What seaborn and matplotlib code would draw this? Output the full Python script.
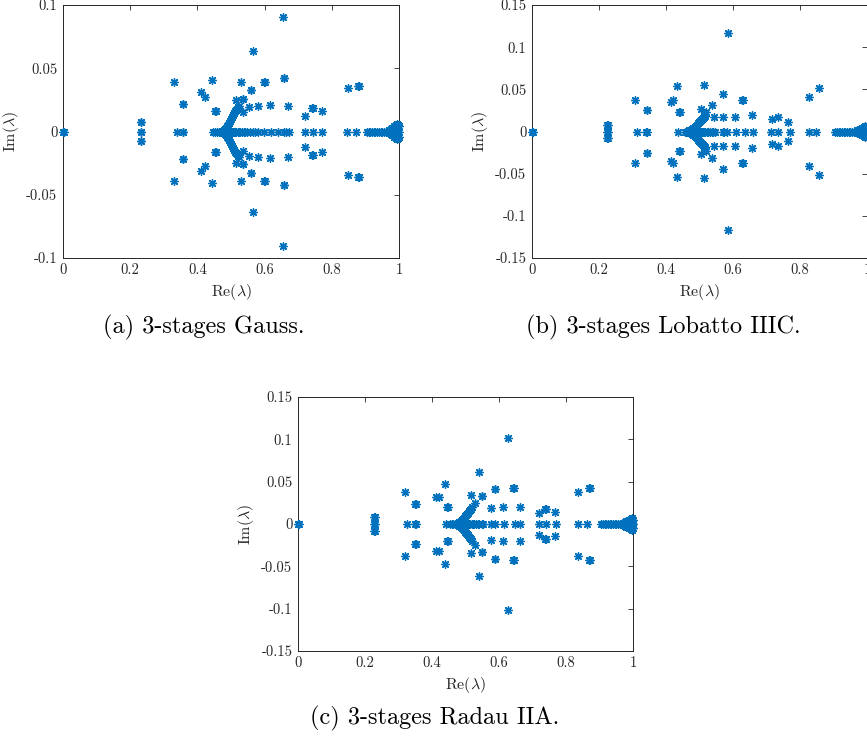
import numpy as np
import pandas as pd
import matplotlib
matplotlib.use('Agg')
import matplotlib.pyplot as plt
import seaborn as sns

# ---------------- data ----------------
# conjugate pairs: (re, +im) ; the conjugate (re, -im) is also an eigenvalue
gauss_pair_re = [0.231, 0.233, 0.330, 0.356, 0.358, 0.411, 0.424, 0.443, 0.453, 0.455,
                 0.516, 0.535, 0.537, 0.530, 0.536, 0.554, 0.559, 0.561, 0.565, 0.581,
                 0.598, 0.600, 0.616, 0.656, 0.657, 0.659, 0.670, 0.721, 0.741, 0.743,
                 0.772, 0.849, 0.879, 0.881,
                 0.478, 0.482, 0.486, 0.489, 0.492, 0.495, 0.498, 0.501, 0.504, 0.507,
                 0.510, 0.513, 0.516, 0.519, 0.522, 0.525,
                 0.970, 0.975, 0.980, 0.985, 0.990, 0.995, 0.998, 1.000]
gauss_pair_im = [0.0074, 0.0074, 0.039, 0.022, 0.022, 0.031, 0.027, 0.041, 0.0165, 0.0165,
                 0.025, 0.0255, 0.0255, 0.0395, 0.0158, 0.019, 0.033, 0.033, 0.0637, 0.020,
                 0.039, 0.039, 0.021, 0.0905, 0.042, 0.042, 0.0203, 0.0119, 0.0188, 0.0188,
                 0.0164, 0.034, 0.036, 0.036,
                 0.0015, 0.002, 0.003, 0.004, 0.0055, 0.007, 0.0085, 0.010, 0.0115, 0.013,
                 0.0145, 0.016, 0.017, 0.018, 0.019, 0.020,
                 0.0015, 0.002, 0.003, 0.004, 0.005, 0.006, 0.005, 0.004]
gauss_real = [0.0, 0.002, 0.231, 0.233, 0.338, 0.356, 0.358, 0.445,
              0.452, 0.458, 0.463, 0.467, 0.471, 0.474, 0.477, 0.480, 0.482, 0.484,
              0.486, 0.488, 0.490, 0.492, 0.494, 0.496, 0.498, 0.500, 0.502, 0.504,
              0.507, 0.510, 0.513, 0.516, 0.520, 0.524, 0.528, 0.533, 0.538, 0.543,
              0.548, 0.558, 0.566, 0.571, 0.581, 0.599, 0.618, 0.640, 0.658, 0.665,
              0.672, 0.720, 0.743, 0.772, 0.844, 0.872,
              0.905, 0.910, 0.915, 0.920, 0.925, 0.930, 0.935, 0.940, 0.945, 0.950,
              0.955, 0.960, 0.965, 0.970, 0.975, 0.980, 0.985, 0.990, 0.995, 1.000]

lobatto_pair_re = [0.225, 0.227, 0.308, 0.342, 0.344, 0.415, 0.420, 0.434, 0.440, 0.442,
                   0.505, 0.514, 0.520, 0.538, 0.543, 0.570, 0.571, 0.584, 0.605, 0.627,
                   0.629, 0.656, 0.717, 0.735, 0.763, 0.826, 0.856,
                   0.470, 0.474, 0.478, 0.482, 0.486, 0.489, 0.492, 0.495, 0.498, 0.501,
                   0.504, 0.507, 0.510, 0.513, 0.516,
                   0.970, 0.975, 0.980, 0.985, 0.990, 0.995, 0.998, 1.000]
lobatto_pair_im = [0.0083, 0.0083, 0.0374, 0.0256, 0.0256, 0.0345, 0.0374, 0.054, 0.0233, 0.0233,
                   0.027, 0.0547, 0.023, 0.032, 0.0177, 0.0177, 0.045, 0.117, 0.0177, 0.0374,
                   0.0374, 0.0197, 0.0146, 0.0176, 0.011, 0.0406, 0.0516,
                   0.0015, 0.002, 0.003, 0.004, 0.005, 0.0065, 0.008, 0.0095, 0.011, 0.0125,
                   0.014, 0.015, 0.016, 0.017, 0.018,
                   0.0015, 0.002, 0.003, 0.004, 0.005, 0.006, 0.005, 0.004]
lobatto_real = [0.0, 0.002, 0.225, 0.227, 0.312, 0.341, 0.343, 0.436,
                0.457, 0.462, 0.466, 0.470, 0.473, 0.476, 0.479, 0.482, 0.484, 0.486,
                0.488, 0.490, 0.492, 0.494, 0.496, 0.498, 0.500, 0.502, 0.504, 0.507,
                0.510, 0.513, 0.517, 0.521, 0.525, 0.530, 0.536, 0.541, 0.546,
                0.569, 0.574, 0.581, 0.608, 0.636, 0.659, 0.713, 0.735, 0.769, 0.826, 0.849,
                0.905, 0.910, 0.915, 0.920, 0.925, 0.930, 0.935, 0.940, 0.945, 0.950,
                0.955, 0.960, 0.965, 0.970, 0.975, 0.980, 0.985, 0.990, 0.995, 1.000]

radau_pair_re = [0.228, 0.230, 0.320, 0.350, 0.352, 0.412, 0.422, 0.440, 0.446, 0.448,
                 0.516, 0.527, 0.541, 0.548, 0.550, 0.575, 0.587, 0.589, 0.611, 0.627,
                 0.642, 0.644, 0.663, 0.719, 0.737, 0.739, 0.766, 0.837, 0.869, 0.871,
                 0.478, 0.482, 0.486, 0.489, 0.492, 0.495, 0.498, 0.501, 0.504, 0.507,
                 0.510, 0.513, 0.516, 0.519,
                 0.970, 0.975, 0.980, 0.985, 0.990, 0.995, 0.998, 1.000]
radau_pair_im = [0.0083, 0.0083, 0.038, 0.024, 0.024, 0.0323, 0.0323, 0.047, 0.0195, 0.0195,
                 0.0347, 0.0244, 0.062, 0.033, 0.033, 0.0193, 0.041, 0.041, 0.0197, 0.102,
                 0.042, 0.042, 0.0205, 0.0128, 0.0174, 0.0174, 0.014, 0.0374, 0.0425, 0.0425,
                 0.0015, 0.002, 0.003, 0.0045, 0.006, 0.0075, 0.009, 0.0105, 0.012, 0.0135,
                 0.015, 0.0165, 0.018, 0.020,
                 0.0015, 0.002, 0.003, 0.004, 0.005, 0.006, 0.007, 0.005]
radau_real = [0.0, 0.002, 0.228, 0.230, 0.325, 0.349, 0.351, 0.443,
              0.454, 0.459, 0.464, 0.468, 0.472, 0.475, 0.478, 0.481, 0.483, 0.485,
              0.487, 0.489, 0.491, 0.493, 0.495, 0.497, 0.499, 0.501, 0.503, 0.505,
              0.508, 0.511, 0.514, 0.518, 0.522, 0.526, 0.531, 0.536, 0.540,
              0.550, 0.552, 0.575, 0.588, 0.615, 0.647, 0.664, 0.718, 0.739, 0.769,
              0.836, 0.863,
              0.905, 0.910, 0.915, 0.920, 0.925, 0.930, 0.935, 0.940, 0.945, 0.950,
              0.955, 0.960, 0.965, 0.970, 0.975, 0.980, 0.985, 0.990, 0.995, 1.000]

x_ticks = [0, 0.2, 0.4, 0.6, 0.8, 1]
x_ticklabels = ['0', '0.2', '0.4', '0.6', '0.8', '1']
y_ticks_a = [-0.1, -0.05, 0, 0.05, 0.1]
y_ticklabels_a = ['-0.1', '-0.05', '0', '0.05', '0.1']
y_ticks_bc = [-0.15, -0.1, -0.05, 0, 0.05, 0.1, 0.15]
y_ticklabels_bc = ['-0.15', '-0.1', '-0.05', '0', '0.05', '0.1', '0.15']

captions = ['(a) 3-stages Gauss.', '(b) 3-stages Lobatto IIIC.', '(c) 3-stages Radau IIA.']

# ---------------- style ----------------
sns.set_style('white')
plt.rcParams['font.family'] = ['cmr10', 'DejaVu Serif']
plt.rcParams['mathtext.fontset'] = 'cm'
plt.rcParams['axes.unicode_minus'] = False

BLUE = '#0072BD'
AXC = '#262626'
W, H = 867, 742


def build(pair_re, pair_im, real):
    re = list(pair_re) + list(pair_re) + list(real)
    im = list(pair_im) + [-v for v in pair_im] + [0.0] * len(real)
    return pd.DataFrame({'re': re, 'im': im})


def draw(ax, df, ylim, yticks, yticklabels, box):
    l, t, r, b = box
    sns.scatterplot(data=df, x='re', y='im', ax=ax, marker=(8, 2, 0), color=BLUE,
                    edgecolor=BLUE, s=30, linewidth=1.0, legend=False, clip_on=False,
                    zorder=3)
    ax.set_xlim(0, 1)
    ax.set_ylim(*ylim)
    ax.set_xticks(x_ticks)
    ax.set_xticklabels(x_ticklabels)
    ax.set_yticks(yticks)
    ax.set_yticklabels(yticklabels)
    ax.tick_params(direction='in', top=True, right=True, length=3.5, width=0.6,
                   labelsize=10.5, pad=4, color=AXC, labelcolor=AXC)
    for s in ax.spines.values():
        s.set_visible(True)
        s.set_color(AXC)
        s.set_linewidth(0.7)
    ax.set_xlabel(r'$\mathrm{Re}(\lambda)$', fontsize=11.5, color=AXC)
    ax.set_ylabel(r'$\mathrm{Im}(\lambda)$', fontsize=11.5, color=AXC)
    wpx, hpx = r - l, b - t
    # x label ~24 px below the axes, y label right edge ~42 px left of the axes
    ax.xaxis.set_label_coords(0.5, -(24.0 / hpx))
    ax.yaxis.set_label_coords(-(42.0 / wpx), 0.5)
    ax.grid(False)


fig = plt.figure(figsize=(W / 100, H / 100), dpi=100)


def frac(box):
    l, t, r, b = box
    return [l / W, 1 - b / H, (r - l) / W, (b - t) / H]


box_a = (63, 5, 399, 258)
box_b = (532, 5, 867, 258)
box_c = (298, 397, 633, 651)
ax_a = fig.add_axes(frac(box_a))
ax_b = fig.add_axes(frac(box_b))
ax_c = fig.add_axes(frac(box_c))

draw(ax_a, build(gauss_pair_re, gauss_pair_im, gauss_real), (-0.1, 0.1), y_ticks_a, y_ticklabels_a, box_a)
draw(ax_b, build(lobatto_pair_re, lobatto_pair_im, lobatto_real), (-0.15, 0.15), y_ticks_bc, y_ticklabels_bc, box_b)
draw(ax_c, build(radau_pair_re, radau_pair_im, radau_real), (-0.15, 0.15), y_ticks_bc, y_ticklabels_bc, box_c)

fig.text(204 / W, 1 - 327 / H, captions[0], ha='center', va='center', fontsize=17.5, color='black')
fig.text(663 / W, 1 - 327 / H, captions[1], ha='center', va='center', fontsize=17.5, color='black')
fig.text(435 / W, 1 - 718 / H, captions[2], ha='center', va='center', fontsize=17.5, color='black')

fig.savefig('out.png', dpi=100)
